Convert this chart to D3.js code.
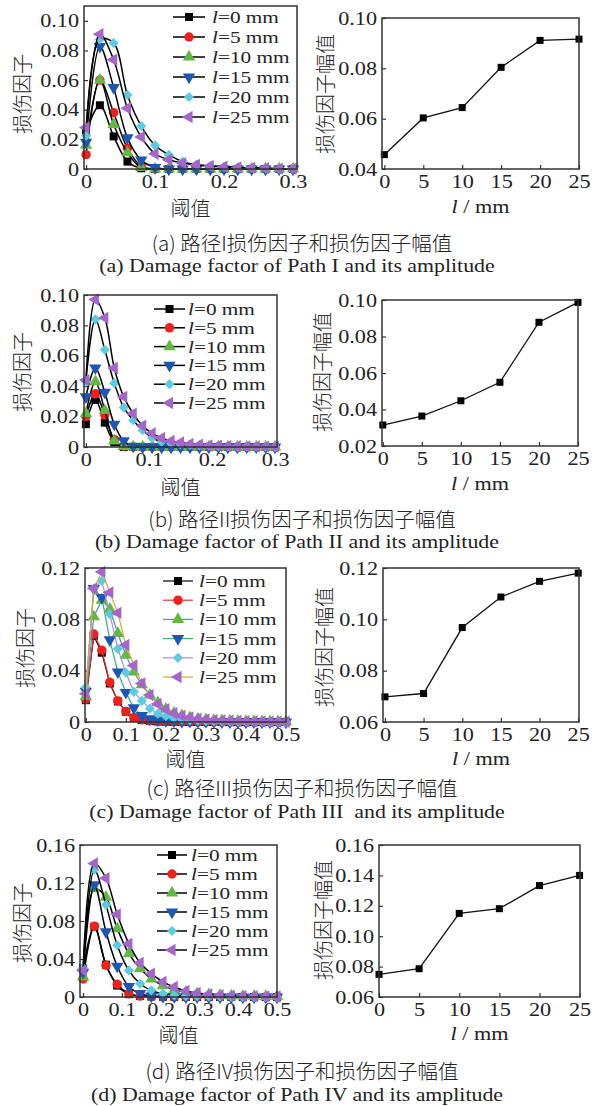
<!DOCTYPE html>
<html>
<head>
<meta charset="utf-8">
<script src="https://cdn.jsdelivr.net/npm/d3@7"></script>
<style>
  body { margin: 0; background: #fff; }
  svg text { font-family: "Liberation Serif", "Times New Roman", "Noto Sans CJK SC", serif; }
  .cjk { font-family: "Noto Sans CJK SC", sans-serif; font-weight: 300; }
</style>
</head>
<body>
<div id="chart"></div>
<script>
// crack lengths l (mm)
var lengths = [0, 5, 10, 15, 20, 25];

// (a) path I
var thrA = [0, 0.02, 0.04, 0.06, 0.08, 0.10, 0.12, 0.14, 0.16, 0.18, 0.20, 0.22, 0.24, 0.26, 0.28, 0.30];
var dmgA = [
  [0.025, 0.043, 0.022, 0.005, 0.0005, 0, 0, 0, 0, 0, 0, 0, 0, 0, 0, 0],
  [0.0097, 0.060, 0.038, 0.014, 0.002, 0, 0, 0, 0, 0, 0, 0, 0, 0, 0, 0],
  [0.016, 0.060, 0.030, 0.011, 0.001, 0, 0, 0, 0, 0, 0, 0, 0, 0, 0, 0],
  [0.018, 0.0827, 0.055, 0.021, 0.006, 0.001, 0, 0, 0, 0, 0, 0, 0, 0, 0, 0],
  [0.0225, 0.0876, 0.085, 0.050, 0.029, 0.016, 0.0095, 0.005, 0.003, 0.002, 0.0015, 0.001, 0.0008, 0.0005, 0.0003, 0.0002],
  [0.028, 0.091, 0.0737, 0.041, 0.0216, 0.0103, 0.0063, 0.004, 0.0027, 0.002, 0.0015, 0.001, 0.0008, 0.0005, 0.0003, 0.0002]
];
var ampA = [0.0457, 0.0603, 0.0644, 0.0804, 0.0911, 0.0916];

// (b) path II
var thrB = [0, 0.015, 0.03, 0.045, 0.06, 0.075, 0.09, 0.105, 0.12, 0.135, 0.15, 0.165, 0.18, 0.195, 0.21, 0.225, 0.24, 0.255, 0.27, 0.285, 0.30];
var dmgB = [
  [0.015, 0.031, 0.016, 0.003, 0, 0, 0, 0, 0, 0, 0, 0, 0, 0, 0, 0, 0, 0, 0, 0, 0],
  [0.020, 0.035, 0.021, 0.005, 0.0005, 0, 0, 0, 0, 0, 0, 0, 0, 0, 0, 0, 0, 0, 0, 0, 0],
  [0.022, 0.043, 0.024, 0.004, 0.0003, 0, 0, 0, 0, 0, 0, 0, 0, 0, 0, 0, 0, 0, 0, 0, 0],
  [0.033, 0.052, 0.036, 0.015, 0.004, 0.0005, 0, 0, 0, 0, 0, 0, 0, 0, 0, 0, 0, 0, 0, 0, 0],
  [0.043, 0.084, 0.064, 0.042, 0.026, 0.0176, 0.011, 0.006, 0.0035, 0.0025, 0.0018, 0.0013, 0.001, 0.0008, 0.0006, 0.0005, 0.0004, 0.0003, 0.0002, 0.0002, 0.0001],
  [0.044, 0.097, 0.085, 0.052, 0.033, 0.022, 0.014, 0.009, 0.006, 0.004, 0.003, 0.002, 0.0015, 0.001, 0.0008, 0.0006, 0.0005, 0.0004, 0.0003, 0.0002, 0.0002]
];
var ampB = [0.0315, 0.0364, 0.0448, 0.0549, 0.0878, 0.0987];

// (c) path III
var thrC = [0, 0.02, 0.04, 0.06, 0.08, 0.10, 0.12, 0.14, 0.16, 0.18, 0.20, 0.22, 0.24, 0.26, 0.28, 0.30, 0.32, 0.34, 0.36, 0.38, 0.40, 0.42, 0.44, 0.46, 0.48, 0.50];
var dmgC = [
  [0.017, 0.067, 0.054, 0.030, 0.016, 0.008, 0.0033, 0.0015, 0.0008, 0.0004, 0.0002, 0.0001, 0, 0, 0, 0, 0, 0, 0, 0, 0, 0, 0, 0, 0, 0],
  [0.0177, 0.0686, 0.056, 0.031, 0.0164, 0.0083, 0.0034, 0.0018, 0.001, 0.0005, 0.0003, 0.0002, 0.0001, 0, 0, 0, 0, 0, 0, 0, 0, 0, 0, 0, 0, 0],
  [0.020, 0.082, 0.095, 0.088, 0.069, 0.052, 0.039, 0.029, 0.021, 0.015, 0.010, 0.007, 0.005, 0.0035, 0.0025, 0.0018, 0.0013, 0.001, 0.0008, 0.0006, 0.0005, 0.0004, 0.0003, 0.0002, 0.0002, 0.0001],
  [0.024, 0.104, 0.097, 0.064, 0.039, 0.023, 0.011, 0.005, 0.0025, 0.0015, 0.001, 0.0007, 0.0005, 0.0004, 0.0003, 0.0002, 0.0002, 0.0001, 0, 0, 0, 0, 0, 0, 0, 0],
  [0.027, 0.104, 0.110, 0.084, 0.057, 0.0386, 0.0235, 0.0164, 0.0104, 0.0065, 0.0045, 0.003, 0.002, 0.0015, 0.001, 0.0008, 0.0006, 0.0005, 0.0004, 0.0003, 0.0002, 0.0002, 0.0001, 0.0001, 0.0001, 0.0001],
  [0.022, 0.104, 0.117, 0.101, 0.085, 0.060, 0.044, 0.030, 0.021, 0.014, 0.010, 0.0068, 0.0048, 0.0035, 0.0025, 0.002, 0.0015, 0.0012, 0.001, 0.0008, 0.0006, 0.0005, 0.0004, 0.0003, 0.0002, 0.0002]
];
var ampC = [0.0698, 0.0711, 0.0968, 0.1087, 0.1148, 0.1180];

// (d) path IV
var thrD = [0, 0.029, 0.059, 0.088, 0.118, 0.147, 0.176, 0.206, 0.235, 0.265, 0.294, 0.324, 0.353, 0.382, 0.412, 0.441, 0.471, 0.50];
var dmgD = [
  [0.030, 0.074, 0.034, 0.012, 0.003, 0.001, 0.0005, 0.0003, 0.0002, 0.0001, 0, 0, 0, 0, 0, 0, 0, 0],
  [0.019, 0.0745, 0.0334, 0.0134, 0.0035, 0.001, 0.0005, 0.0003, 0.0002, 0.0001, 0.0001, 0, 0, 0, 0, 0, 0, 0],
  [0.021, 0.114, 0.105, 0.072, 0.0457, 0.030, 0.019, 0.012, 0.0075, 0.005, 0.0035, 0.0025, 0.0018, 0.0013, 0.001, 0.0008, 0.0006, 0.0005],
  [0.026, 0.118, 0.0686, 0.0324, 0.011, 0.0035, 0.001, 0.0005, 0.0003, 0.0002, 0.0001, 0, 0, 0, 0, 0, 0, 0],
  [0.0306, 0.134, 0.097, 0.0545, 0.028, 0.014, 0.007, 0.0035, 0.0018, 0.001, 0.0007, 0.0005, 0.0004, 0.0003, 0.0002, 0.0002, 0.0001, 0.0001],
  [0.028, 0.1406, 0.125, 0.087, 0.056, 0.036, 0.0246, 0.016, 0.0105, 0.0063, 0.0042, 0.003, 0.002, 0.0015, 0.001, 0.0008, 0.0006, 0.0005]
];
var ampD = [0.0749, 0.0786, 0.1150, 0.1181, 0.1333, 0.1400];

// ticks
var thrTicks3 = [0, 0.1, 0.2, 0.3];
var thrTicks5 = [0, 0.1, 0.2, 0.3, 0.4, 0.5];
var lTicks = [0, 5, 10, 15, 20, 25];

var captionsCn = ["(a) 路径I损伤因子和损伤因子幅值", "(b) 路径II损伤因子和损伤因子幅值", "(c) 路径III损伤因子和损伤因子幅值", "(d) 路径IV损伤因子和损伤因子幅值"];
var captionsEn = ["(a) Damage factor of Path I and its amplitude", "(b) Damage factor of Path II and its amplitude", "(c) Damage factor of Path III  and its amplitude", "(d) Damage factor of Path IV and its amplitude"];

var markerFill = ["#000000", "#f0201c", "#62b843", "#1d57b3", "#5ccbe0", "#a666c9"];
var lineColorsC = ["#000000", "#e8322c", "#4c8fd6", "#35b27a", "#b08ad8", "#dca43a"];
var symbols = [d3.symbolSquare, d3.symbolCircle, d3.symbolTriangle, d3.symbolTriangle, d3.symbolDiamond2, d3.symbolTriangle];
var symRot = [0, 0, 0, 180, 0, -90];
var symSize = [64, 70, 66, 66, 66, 66];

var svg = d3.select("#chart").append("svg")
    .attr("width", 600)
    .attr("height", 1106);

var fmtY = function(v) { return v === 0 ? "0" : v.toFixed(2); };
var fmtX = function(v) { return v === 0 ? "0" : String(v); };

// widen latin text horizontally about its anchor point
function stretch(sel, k) {
  sel.attr("transform", function() {
    var x = +(this.getAttribute("x") || 0);
    return "translate(" + x + ",0) scale(" + k + ",1) translate(" + (-x) + ",0)";
  });
}

function frame(g, x, y) {
  g.append("rect")
    .attr("x", x.range()[0]).attr("y", y.range()[1])
    .attr("width", x.range()[1] - x.range()[0])
    .attr("height", y.range()[0] - y.range()[1])
    .attr("fill", "none").attr("stroke", "#333").attr("stroke-width", 1.5);
}

function axes(g, x, y, xt, yt, xf, yf) {
  var ax = g.append("g")
    .attr("transform", "translate(0," + y.range()[0] + ")")
    .call(d3.axisBottom(x).tickValues(xt).tickFormat(xf).tickSize(-4).tickSizeOuter(0).tickPadding(6));
  var ay = g.append("g")
    .attr("transform", "translate(" + x.range()[0] + ",0)")
    .call(d3.axisLeft(y).tickValues(yt).tickFormat(yf).tickSize(-4).tickSizeOuter(0).tickPadding(5));
  [ax, ay].forEach(function(a) {
    a.select(".domain").remove();
    a.selectAll("line").attr("stroke", "#333").attr("stroke-width", 1.2);
    a.selectAll("text").attr("fill", "#222").style("font-size", "19px").call(stretch, 1.17);
  });
}

function drawSymbol(g, i, cx, cy) {
  g.append("path")
    .attr("d", d3.symbol().type(symbols[i]).size(symSize[i])())
    .attr("transform", "translate(" + cx + "," + cy + ") rotate(" + symRot[i] + ")")
    .attr("fill", markerFill[i]);
}

function curvePanel(c, thr, dmg, xt, yt, colored) {
  var g = svg.append("g");
  var x = d3.scaleLinear().domain(c.xd).range([c.l, c.r]);
  var y = d3.scaleLinear().domain(c.yd).range([c.b, c.t]);
  axes(g, x, y, xt, yt, fmtX, fmtY);

  var line = d3.line()
    .x(function(d) { return x(d[0]); })
    .y(function(d) { return y(d[1]); })
    .curve(colored ? d3.curveLinear : d3.curveCatmullRom.alpha(0.5));

  dmg.forEach(function(vals, i) {
    var pts = thr.map(function(t, j) { return [t, vals[j]]; });
    g.append("path").datum(pts)
      .attr("d", line)
      .attr("fill", "none")
      .attr("stroke", colored ? lineColorsC[i] : "#000")
      .attr("stroke-width", colored ? 1.2 : 1.5);
    pts.forEach(function(p) { drawSymbol(g, i, x(p[0]), y(p[1])); });
  });

  // legend
  lengths.forEach(function(l, i) {
    var ly = c.ly + i * c.ldy;
    g.append("line")
      .attr("x1", c.lx).attr("x2", c.lx + c.llen)
      .attr("y1", ly).attr("y2", ly)
      .attr("stroke", colored ? lineColorsC[i] : "#000")
      .attr("stroke-width", colored ? 1.2 : 1.5);
    drawSymbol(g, i, c.lx + c.llen / 2, ly);
    var t = g.append("text")
      .attr("x", c.tx).attr("y", ly).attr("dy", "0.35em")
      .attr("fill", "#222").style("font-size", "17px");
    t.append("tspan").style("font-style", "italic").text("l");
    t.append("tspan").text("=" + l + " mm");
    t.call(stretch, 1.25);
  });

  frame(g, x, y);

  g.append("text").attr("class", "cjk")
    .attr("transform", "translate(" + c.ylx + "," + c.yly + ") rotate(-90)")
    .attr("text-anchor", "middle").attr("dy", "0.38em")
    .attr("fill", "#222").style("font-size", "20px")
    .text("损伤因子");
  g.append("text").attr("class", "cjk")
    .attr("x", (c.l + c.r) / 2).attr("y", c.b + c.xly)
    .attr("text-anchor", "middle")
    .attr("fill", "#222").style("font-size", "20px")
    .text("阈值");
}

function ampPanel(c, amp, yt) {
  var g = svg.append("g");
  var x = d3.scaleLinear().domain(c.xd).range([c.l, c.r]);
  var y = d3.scaleLinear().domain(c.yd).range([c.b, c.t]);
  axes(g, x, y, lTicks, yt, fmtX, function(v) { return v.toFixed(2); });

  var line = d3.line()
    .x(function(d, i) { return x(lengths[i]); })
    .y(function(d) { return y(d); });
  g.append("path").datum(amp)
    .attr("d", line)
    .attr("fill", "none").attr("stroke", "#111").attr("stroke-width", 1.3);
  g.selectAll("rect.pt").data(amp).enter().append("rect")
    .attr("class", "pt")
    .attr("x", function(d, i) { return x(lengths[i]) - 3.5; })
    .attr("y", function(d) { return y(d) - 3.5; })
    .attr("width", 7).attr("height", 7)
    .attr("fill", "#000");

  frame(g, x, y);

  g.append("text").attr("class", "cjk")
    .attr("transform", "translate(" + c.ylx + "," + c.yly + ") rotate(-90)")
    .attr("text-anchor", "middle").attr("dy", "0.38em")
    .attr("fill", "#222").style("font-size", "20px")
    .text("损伤因子幅值");
  var t = g.append("text")
    .attr("x", (c.l + c.r) / 2).attr("y", c.b + c.xly)
    .attr("text-anchor", "middle")
    .attr("fill", "#222").style("font-size", "19px");
  t.append("tspan").style("font-style", "italic").text("l");
  t.append("tspan").text(" / mm");
  t.call(stretch, 1.17);
}

function caption(i, y1, y2) {
  svg.append("text").attr("class", "cjk")
    .attr("x", 302).attr("y", y1).attr("text-anchor", "middle")
    .attr("fill", "#222").style("font-size", "20.5px")
    .text(captionsCn[i]);
  svg.append("text")
    .attr("x", 297).attr("y", y2).attr("text-anchor", "middle")
    .attr("fill", "#222").style("font-size", "19px")
    .style("white-space", "pre")
    .text(captionsEn[i])
    .call(stretch, 1.15);
}

// (a)
curvePanel({l: 84, r: 297, t: 6, b: 169, xd: [-0.003, 0.3058], yd: [0, 0.11],
  lx: 173, llen: 32, tx: 212, ly: 17, ldy: 20, ylx: 22, yly: 94, xly: 47},
  thrA, dmgA, thrTicks3, [0, 0.02, 0.04, 0.06, 0.08, 0.10], false);
ampPanel({l: 382, r: 579, t: 18, b: 169, xd: [-0.3, 25], yd: [0.04, 0.10], ylx: 325, yly: 94, xly: 44},
  ampA, [0.04, 0.06, 0.08, 0.10]);
caption(0, 251, 272);

// (b)
curvePanel({l: 84, r: 277, t: 295, b: 447, xd: [-0.003, 0.303], yd: [0, 0.10],
  lx: 154, llen: 31, tx: 188, ly: 309, ldy: 18.8, ylx: 22, yly: 372, xly: 48},
  thrB, dmgB, thrTicks3, [0, 0.02, 0.04, 0.06, 0.08, 0.10], false);
ampPanel({l: 382, r: 578, t: 300, b: 446, xd: [-0.1, 25], yd: [0.02, 0.10], ylx: 322, yly: 372, xly: 44},
  ampB, [0.02, 0.04, 0.06, 0.08, 0.10]);
caption(1, 527, 548);

// (c)
curvePanel({l: 85, r: 286, t: 568, b: 722, xd: [-0.002, 0.5], yd: [0, 0.12],
  lx: 163, llen: 30, tx: 199, ly: 581, ldy: 19.2, ylx: 25, yly: 648, xly: 45},
  thrC, dmgC, thrTicks5, [0, 0.04, 0.08, 0.12], true);
ampPanel({l: 383, r: 579, t: 568, b: 722, xd: [-0.25, 25.1], yd: [0.06, 0.12], ylx: 324, yly: 647, xly: 43},
  ampC, [0.06, 0.08, 0.10, 0.12]);
caption(2, 796, 818);

// (d)
curvePanel({l: 80, r: 277, t: 845, b: 997, xd: [-0.008, 0.5], yd: [0, 0.16],
  lx: 157, llen: 30, tx: 191, ly: 855, ldy: 19, ylx: 22, yly: 923, xly: 46},
  thrD, dmgD, thrTicks5, [0, 0.04, 0.08, 0.12, 0.16], false);
ampPanel({l: 379, r: 580, t: 845, b: 997, xd: [0, 25.05], yd: [0.06, 0.16], ylx: 323, yly: 920, xly: 43},
  ampD, [0.06, 0.08, 0.10, 0.12, 0.14, 0.16]);
caption(3, 1079, 1101);
</script>
</body>
</html>
